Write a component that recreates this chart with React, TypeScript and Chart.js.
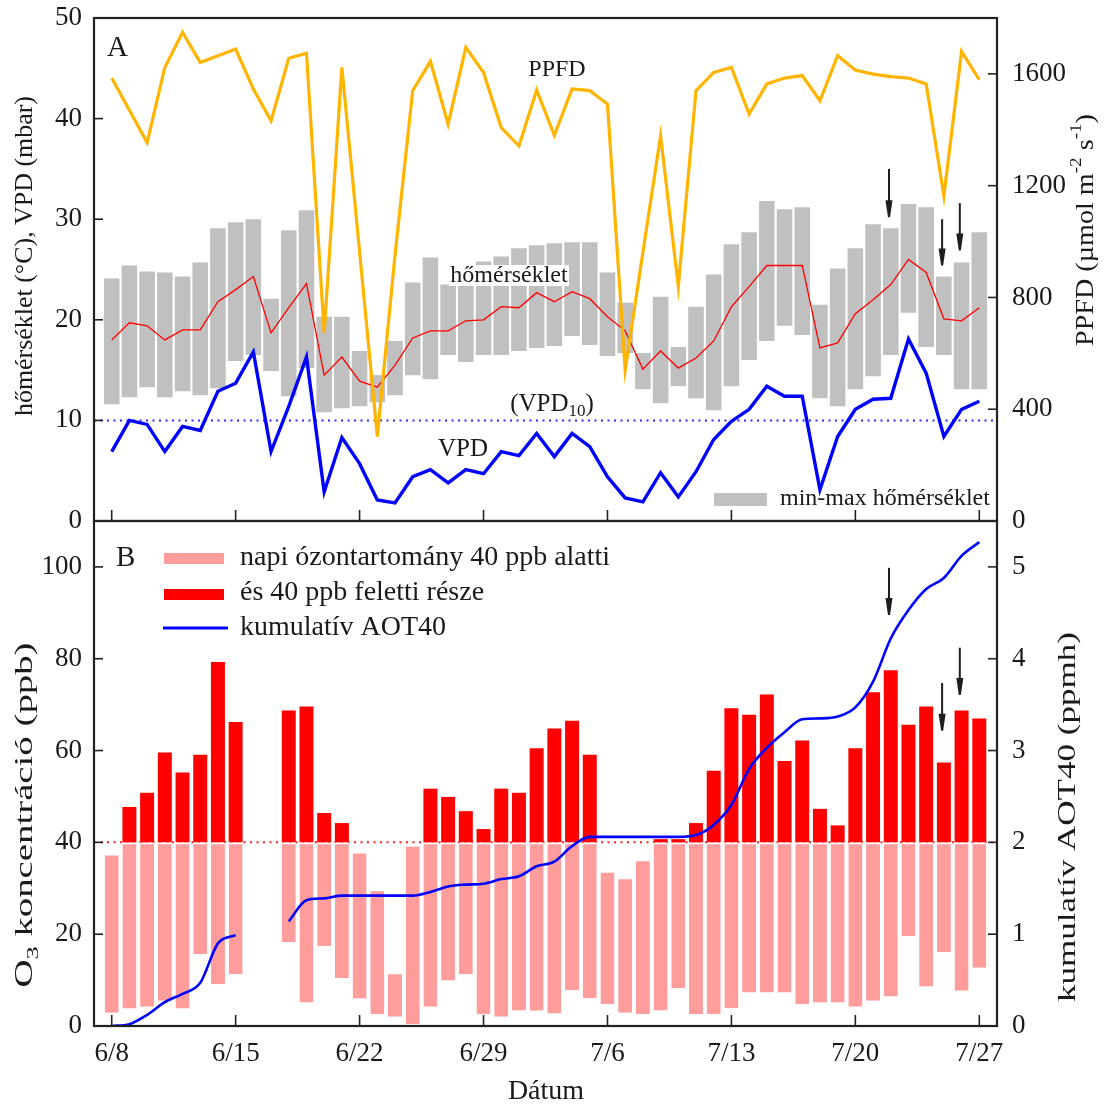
import React, { useEffect, useRef } from 'react';
import { Chart, registerables } from 'chart.js';

Chart.register(...registerables);

// ---------- data ----------
const dates = [
  '6/8', '6/9', '6/10', '6/11', '6/12', '6/13', '6/14', '6/15', '6/16', '6/17',
  '6/18', '6/19', '6/20', '6/21', '6/22', '6/23', '6/24', '6/25', '6/26', '6/27',
  '6/28', '6/29', '6/30', '7/1', '7/2', '7/3', '7/4', '7/5', '7/6', '7/7',
  '7/8', '7/9', '7/10', '7/11', '7/12', '7/13', '7/14', '7/15', '7/16', '7/17',
  '7/18', '7/19', '7/20', '7/21', '7/22', '7/23', '7/24', '7/25', '7/26', '7/27',
];
const dateTicks = ['6/8', '6/15', '6/22', '6/29', '7/6', '7/13', '7/20', '7/27'];

const ppfd = [
  1585, 1470, 1354, 1623, 1749, 1641, 1665, 1689, 1546, 1432,
  1656, 1674, 673, 1623, 964, 302, 950, 1540, 1645, 1420,
  1695, 1605, 1408, 1342, 1542, 1380, 1546, 1540, 1492, 541,
  961, 1378, 840, 1540, 1605, 1623, 1456, 1564, 1585, 1594,
  1504, 1665, 1614, 1599, 1590, 1585, 1564, 1163, 1680, 1579,
];
const tempMax = [
  24.1, 25.4, 24.8, 24.7, 24.3, 25.7, 29.1, 29.7, 30.0, 22.1,
  28.9, 30.9, 20.3, 20.3, 16.9, 14.5, 17.9, 23.7, 26.2, 23.5,
  25.0, 25.8, 26.3, 27.1, 27.4, 27.6, 27.7, 27.7, 24.7, 21.7,
  16.7, 22.3, 17.3, 21.3, 24.5, 27.5, 28.7, 31.8, 31.0, 31.2,
  21.5, 25.1, 27.1, 29.5, 29.1, 31.5, 31.2, 24.3, 25.7, 28.7,
];
const tempMin = [
  11.6, 12.3, 13.3, 12.3, 12.9, 12.5, 13.2, 15.9, 16.5, 14.9,
  12.4, 15.2, 10.8, 11.2, 11.4, 11.8, 12.5, 14.5, 14.1, 16.5,
  15.8, 16.5, 16.5, 16.9, 17.2, 17.4, 18.4, 17.5, 16.4, 16.7,
  13.1, 11.7, 13.4, 12.2, 11.0, 13.4, 16.0, 17.9, 19.4, 18.5,
  12.2, 11.4, 13.1, 14.4, 16.5, 20.7, 17.3, 16.5, 13.1, 13.1,
];
const tempMean = [
  18.0, 19.7, 19.4, 18.0, 19.0, 19.0, 21.8, 23.0, 24.3, 18.7,
  21.2, 23.6, 14.5, 16.3, 13.9, 13.3, 15.5, 18.2, 18.9, 18.9,
  19.9, 20.0, 21.3, 21.2, 22.7, 21.8, 22.8, 22.1, 20.3, 18.9,
  15.1, 16.9, 15.2, 16.2, 17.9, 21.3, 23.3, 25.4, 25.4, 25.4,
  17.2, 17.7, 20.6, 22.0, 23.5, 26.0, 24.7, 20.1, 19.9, 21.2,
];
const vpd = [
  6.9, 10.0, 9.6, 6.9, 9.4, 9.0, 12.9, 13.7, 16.8, 6.9,
  11.4, 16.3, 2.9, 8.3, 5.7, 2.1, 1.8, 4.4, 5.1, 3.8,
  5.1, 4.7, 6.9, 6.5, 8.7, 6.4, 8.7, 7.4, 4.4, 2.3,
  1.9, 4.8, 2.4, 4.9, 8.1, 9.9, 11.1, 13.4, 12.4, 12.4,
  3.1, 8.4, 11.1, 12.1, 12.2, 18.1, 14.7, 8.4, 11.1, 11.9,
];
const vpdThreshold = 10;

const o3Max = [
  37.6, 47.7, 50.8, 59.6, 55.2, 59.1, 79.3, 66.2, null, null,
  68.7, 69.6, 46.4, 44.2, 38.0, 29.8, 11.7, 39.5, 51.7, 49.9,
  46.8, 42.9, 51.7, 50.8, 60.5, 64.8, 66.5, 59.1, 33.8, 32.4,
  36.3, 40.7, 40.7, 44.2, 55.6, 69.2, 67.8, 72.2, 57.7, 62.2,
  47.3, 43.7, 60.5, 72.7, 77.5, 65.6, 69.6, 57.4, 68.7, 67.0,
];
const o3Min = [
  2.9, 3.8, 4.2, 5.5, 3.8, 15.7, 9.1, 11.3, null, null,
  18.3, 5.1, 17.4, 10.4, 6.0, 2.6, 2.0, 0.4, 4.2, 9.9,
  11.3, 2.6, 2.0, 3.4, 3.3, 2.7, 7.8, 6.1, 4.8, 2.9,
  2.6, 3.4, 8.2, 2.6, 2.6, 3.9, 7.3, 7.3, 7.3, 4.8,
  5.1, 5.1, 4.2, 5.5, 6.4, 19.6, 8.6, 16.1, 7.7, 12.7,
];
const o3Threshold = 40;
const aot40 = [
  0.0, 0.02, 0.12, 0.26, 0.35, 0.47, 0.9, 0.99, null, null,
  1.14, 1.37, 1.39, 1.42, 1.42, 1.42, 1.42, 1.42, 1.46, 1.52,
  1.54, 1.55, 1.6, 1.63, 1.74, 1.79, 1.96, 2.06, 2.06, 2.06,
  2.06, 2.06, 2.06, 2.08, 2.19, 2.41, 2.8, 3.03, 3.2, 3.34,
  3.35, 3.37, 3.47, 3.75, 4.22, 4.53, 4.76, 4.88, 5.12, 5.27,
];

const tempTicks = [0, 10, 20, 30, 40, 50];
const ppfdTicks = [0, 400, 800, 1200, 1600];
const o3Ticks = [0, 20, 40, 60, 80, 100];
const aotTicks = [0, 1, 2, 3, 4, 5];

// arrows marking dates (x in day index, from/to in axis units)
const arrowsA = [
  { x: 43.9, from: 35.0, to: 30.2 },
  { x: 46.9, from: 30.0, to: 25.4 },
  { x: 47.9, from: 31.6, to: 26.9 },
];
const arrowsB = [
  { x: 43.9, from: 99.8, to: 89.5 },
  { x: 46.9, from: 74.7, to: 64.3 },
  { x: 47.9, from: 82.4, to: 72.1 },
];

// ---------- layout ----------
const PAD = 40; // layout padding above chart areas
const A_TOP = 18 - PAD; // page y of canvas A
const A_H = 521 + PAD - A_TOP; // chart bottom at page 521, padding below
const B_TOP = 521 - PAD; // page y of canvas B
const X_AXIS_H = 82;
const B_H = 1026 + X_AXIS_H - B_TOP;

// ---------- helpers ----------
const SERIF = '"Liberation Serif", "Times New Roman", serif';
const INK = '#1a1a1a';

type Seg = { t: string; sub?: boolean; sup?: boolean };

function drawRich(
  ctx: CanvasRenderingContext2D,
  segs: Seg[],
  x: number,
  y: number,
  size: number,
  opts: { align?: 'left' | 'center' | 'right'; rotate?: number; target?: number; color?: string } = {}
) {
  ctx.save();
  ctx.translate(x, y);
  if (opts.rotate) ctx.rotate(opts.rotate);
  ctx.textBaseline = 'middle';
  ctx.textAlign = 'left';
  let total = 0;
  const widths = segs.map((s) => {
    const fs = s.sub || s.sup ? size * 0.68 : size;
    ctx.font = `${fs}px ${SERIF}`;
    const w = ctx.measureText(s.t).width;
    total += w;
    return w;
  });
  const sx = opts.target ? opts.target / total : 1;
  ctx.scale(sx, 1);
  let cx = opts.align === 'center' ? -total / 2 : opts.align === 'right' ? -total : 0;
  ctx.fillStyle = opts.color || INK;
  segs.forEach((s, i) => {
    const fs = s.sub || s.sup ? size * 0.68 : size;
    ctx.font = `${fs}px ${SERIF}`;
    const dy = s.sub ? size * 0.32 : s.sup ? -size * 0.38 : 0;
    ctx.fillText(s.t, cx, dy);
    cx += widths[i];
  });
  ctx.restore();
}

function hLineDotted(ctx: CanvasRenderingContext2D, chart: any, scaleId: string, value: number, color: string) {
  const { left, right } = chart.chartArea;
  const p = chart.scales[scaleId].getPixelForValue(value);
  ctx.save();
  ctx.strokeStyle = color;
  ctx.lineWidth = 2;
  ctx.setLineDash([2, 4.5]);
  ctx.beginPath();
  ctx.moveTo(left, p);
  ctx.lineTo(right, p);
  ctx.stroke();
  ctx.restore();
}

function drawArrow(ctx: CanvasRenderingContext2D, chart: any, scaleId: string, a: { x: number; from: number; to: number }) {
  const x = chart.scales.x.getPixelForValue(a.x);
  const y0 = chart.scales[scaleId].getPixelForValue(a.from);
  const y1 = chart.scales[scaleId].getPixelForValue(a.to);
  ctx.save();
  ctx.strokeStyle = '#1e1e1e';
  ctx.fillStyle = '#1e1e1e';
  ctx.lineWidth = 2;
  ctx.beginPath();
  ctx.moveTo(x, y0);
  ctx.lineTo(x, y1 - 12);
  ctx.stroke();
  ctx.beginPath();
  ctx.moveTo(x - 3.5, y1 - 17);
  ctx.lineTo(x + 3.5, y1 - 17);
  ctx.lineTo(x + 1, y1);
  ctx.lineTo(x - 1, y1);
  ctx.closePath();
  ctx.fill();
  ctx.restore();
}

function drawFrame(ctx: CanvasRenderingContext2D, chart: any) {
  const { left, right, top, bottom } = chart.chartArea;
  ctx.save();
  ctx.strokeStyle = '#222';
  ctx.lineWidth = 1.6;
  const seg = (x1: number, y1: number, x2: number, y2: number) => {
    ctx.beginPath();
    ctx.moveTo(x1, y1);
    ctx.lineTo(x2, y2);
    ctx.stroke();
  };
  for (const t of chart.scales.y.ticks) {
    const p = chart.scales.y.getPixelForValue(t.value);
    seg(left, p, left + 9, p);
  }
  for (const t of chart.scales.yR.ticks) {
    const p = chart.scales.yR.getPixelForValue(t.value);
    seg(right - 9, p, right, p);
  }
  for (const t of chart.scales.x.ticks) {
    const p = chart.scales.x.getPixelForValue(t.value);
    seg(p, bottom, p, bottom - 11);
  }
  ctx.lineWidth = 2.2;
  ctx.strokeRect(left, top, right - left, bottom - top);
  ctx.restore();
}

const xy = (arr: (number | null)[]) => arr.map((v, i) => ({ x: i, y: v }));

function xScale(display: boolean) {
  return {
    type: 'linear',
    display,
    offset: false,
    min: -1,
    max: dates.length,
    afterBuildTicks: (s: any) => {
      s.ticks = dateTicks.map((d) => ({ value: dates.indexOf(d) }));
    },
    afterFit: (s: any) => {
      s.height = display ? X_AXIS_H : 0;
    },
    grid: { display: false, drawTicks: false, offset: false },
    border: { display: false },
    ticks: {
      callback: (v: any) => dates[v] ?? '',
      font: { family: SERIF, size: 27 },
      color: INK,
      padding: 12,
      maxRotation: 0,
      autoSkip: false,
    },
  };
}

function yScale(position: 'left' | 'right', min: number, max: number, tickArr: number[]) {
  return {
    type: 'linear',
    position,
    min,
    max,
    afterBuildTicks: (s: any) => {
      s.ticks = tickArr.map((v) => ({ value: v }));
    },
    afterFit: (s: any) => {
      s.width = position === 'left' ? 94 : 109;
    },
    grid: { display: false, drawTicks: false, drawOnChartArea: false },
    border: { display: false },
    ticks: {
      callback: (v: any) => String(v),
      font: { family: SERIF, size: 27 },
      color: INK,
      padding: position === 'left' ? 12 : 15,
    },
  };
}

// ---------- chart configs ----------
function configA(): any {
  const oy = -A_TOP; // page y -> canvas y
  const rangeData = dates.map((_, i) => ({ x: i, y: [tempMin[i], tempMax[i]] }));
  const plugin = {
    id: 'panelA',
    beforeDatasetsDraw(chart: any) {
      hLineDotted(chart.ctx, chart, 'y', vpdThreshold, '#2b2bff');
    },
    afterDatasetsDraw(chart: any) {
      const ctx = chart.ctx as CanvasRenderingContext2D;
      ctx.save();
      ctx.fillStyle = '#ffffff';
      ctx.fillRect(449, 265 + oy, 120, 21);
      ctx.restore();
      drawRich(ctx, [{ t: 'hőmérséklet' }], 509, 276 + oy, 24, { align: 'center' });
      drawRich(ctx, [{ t: 'A' }], 107, 48 + oy, 29, {});
      drawRich(ctx, [{ t: 'PPFD' }], 557, 70 + oy, 24, { align: 'center' });
      drawRich(ctx, [{ t: '(VPD' }, { t: '10', sub: true }, { t: ')' }], 552, 404 + oy, 25, { align: 'center' });
      drawRich(ctx, [{ t: 'VPD' }], 463, 449 + oy, 25, { align: 'center' });
      ctx.save();
      ctx.fillStyle = '#c0c0c0';
      ctx.fillRect(714, 493 + oy, 53, 13);
      ctx.restore();
      drawRich(ctx, [{ t: 'min-max hőmérséklet' }], 780, 499 + oy, 24, {});
      for (const a of arrowsA) drawArrow(ctx, chart, 'y', a);
    },
    afterDraw(chart: any) {
      const ctx = chart.ctx as CanvasRenderingContext2D;
      drawFrame(ctx, chart);
      drawRich(ctx, [{ t: 'hőmérséklet (°C), VPD (mbar)' }], 25, 256 + oy, 26, {
        align: 'center',
        rotate: -Math.PI / 2,
        target: 320,
      });
      drawRich(
        ctx,
        [{ t: 'PPFD (µmol m' }, { t: '-2', sup: true }, { t: ' s' }, { t: '-1', sup: true }, { t: ')' }],
        1086,
        230 + oy,
        26,
        { align: 'center', rotate: -Math.PI / 2, target: 232 }
      );
    },
  };
  return {
    type: 'bar',
    data: {
      datasets: [
        {
          type: 'bar',
          label: 'min-max hőmérséklet',
          data: rangeData,
          backgroundColor: '#c0c0c0',
          grouped: false,
          barPercentage: 1,
          categoryPercentage: 0.88,
          yAxisID: 'y',
          order: 10,
        },
        {
          type: 'line',
          label: 'hőmérséklet',
          data: xy(tempMean),
          borderColor: '#ff0000',
          borderWidth: 1.3,
          pointRadius: 0,
          yAxisID: 'y',
          order: 5,
        },
        {
          type: 'line',
          label: 'PPFD',
          data: xy(ppfd),
          borderColor: '#ffb400',
          borderWidth: 3.2,
          pointRadius: 0,
          yAxisID: 'yR',
          order: 4,
        },
        {
          type: 'line',
          label: 'VPD',
          data: xy(vpd),
          borderColor: '#0000ff',
          borderWidth: 3.4,
          pointRadius: 0,
          yAxisID: 'y',
          order: 3,
        },
      ],
    },
    options: {
      responsive: false,
      animation: false,
      devicePixelRatio: 1,
      events: [],
      layout: { padding: { top: PAD, bottom: PAD, left: 0, right: 0 } },
      plugins: { legend: { display: false }, tooltip: { enabled: false } },
      scales: {
        x: xScale(false),
        y: yScale('left', 0, 50, tempTicks),
        yR: yScale('right', 0, 1800, ppfdTicks),
      },
    },
    plugins: [plugin],
  };
}

function configB(): any {
  const oy = -B_TOP;
  const lowData: any[] = [];
  const highData: any[] = [];
  dates.forEach((_, i) => {
    const lo = o3Min[i];
    const hi = o3Max[i];
    if (lo == null || hi == null) return;
    lowData.push({ x: i, y: [lo, Math.min(hi, o3Threshold)] });
    if (hi > o3Threshold) highData.push({ x: i, y: [o3Threshold, hi] });
  });
  const plugin = {
    id: 'panelB',
    beforeDatasetsDraw(chart: any) {
      hLineDotted(chart.ctx, chart, 'y', o3Threshold, '#ff2020');
    },
    afterDatasetsDraw(chart: any) {
      const ctx = chart.ctx as CanvasRenderingContext2D;
      for (const a of arrowsB) drawArrow(ctx, chart, 'y', a);
      drawRich(ctx, [{ t: 'B' }], 116, 558 + oy, 29, {});
      ctx.save();
      ctx.fillStyle = '#ff9d9d';
      ctx.fillRect(164, 553 + oy, 60, 11);
      ctx.fillStyle = '#ff0000';
      ctx.fillRect(164, 589 + oy, 60, 11);
      ctx.strokeStyle = '#0000ff';
      ctx.lineWidth = 3;
      ctx.beginPath();
      ctx.moveTo(163, 628 + oy);
      ctx.lineTo(228, 628 + oy);
      ctx.stroke();
      ctx.restore();
      drawRich(ctx, [{ t: 'napi ózontartomány 40 ppb alatti' }], 240, 558 + oy, 28, {});
      drawRich(ctx, [{ t: 'és 40 ppb feletti része' }], 240, 593 + oy, 28, {});
      drawRich(ctx, [{ t: 'kumulatív AOT40' }], 240, 628 + oy, 28, {});
    },
    afterDraw(chart: any) {
      const ctx = chart.ctx as CanvasRenderingContext2D;
      drawFrame(ctx, chart);
      drawRich(ctx, [{ t: 'O' }, { t: '3', sub: true }, { t: ' koncentráció (ppb)' }], 25, 815 + oy, 26, {
        align: 'center',
        rotate: -Math.PI / 2,
        target: 345,
      });
      drawRich(ctx, [{ t: 'kumulatív AOT40 (ppmh)' }], 1068, 817 + oy, 26, {
        align: 'center',
        rotate: -Math.PI / 2,
        target: 370,
      });
      drawRich(ctx, [{ t: 'Dátum' }], 546, 1092 + oy, 28, { align: 'center' });
    },
  };
  return {
    type: 'bar',
    data: {
      datasets: [
        {
          type: 'bar',
          label: 'napi ózontartomány 40 ppb alatti',
          data: lowData,
          backgroundColor: '#ff9d9d',
          borderColor: '#ffffff',
          borderWidth: { top: 2, left: 0, right: 0, bottom: 0 },
          borderSkipped: false,
          grouped: false,
          barPercentage: 1,
          categoryPercentage: 0.79,
          yAxisID: 'y',
          order: 10,
        },
        {
          type: 'bar',
          label: 'és 40 ppb feletti része',
          data: highData,
          backgroundColor: '#ff0000',
          grouped: false,
          barPercentage: 1,
          categoryPercentage: 0.79,
          yAxisID: 'y',
          order: 9,
        },
        {
          type: 'line',
          label: 'kumulatív AOT40',
          data: xy(aot40),
          borderColor: '#0000ff',
          borderWidth: 2.6,
          pointRadius: 0,
          cubicInterpolationMode: 'monotone',
          spanGaps: false,
          yAxisID: 'yR',
          order: 1,
        },
      ],
    },
    options: {
      responsive: false,
      animation: false,
      devicePixelRatio: 1,
      events: [],
      layout: { padding: { top: PAD, bottom: 0, left: 0, right: 0 } },
      plugins: { legend: { display: false }, tooltip: { enabled: false } },
      scales: {
        x: xScale(true),
        y: yScale('left', 0, 110, o3Ticks),
        yR: yScale('right', 0, 5.5, aotTicks),
      },
    },
    plugins: [plugin],
  };
}

export default function App() {
  const refA = useRef<HTMLCanvasElement>(null);
  const refB = useRef<HTMLCanvasElement>(null);
  useEffect(() => {
    const a = new Chart(refA.current as HTMLCanvasElement, configA());
    const b = new Chart(refB.current as HTMLCanvasElement, configB());
    return () => {
      a.destroy();
      b.destroy();
    };
  }, []);
  return (
    <div style={{ position: 'absolute', left: 0, top: 0, width: 1106, height: 1108, overflow: 'hidden', background: '#ffffff' }}>
      <canvas
        ref={refA}
        width={1106}
        height={A_H}
        style={{ position: 'absolute', left: 0, top: A_TOP, width: 1106, height: A_H }}
      />
      <canvas
        ref={refB}
        width={1106}
        height={B_H}
        style={{ position: 'absolute', left: 0, top: B_TOP, width: 1106, height: B_H }}
      />
    </div>
  );
}
